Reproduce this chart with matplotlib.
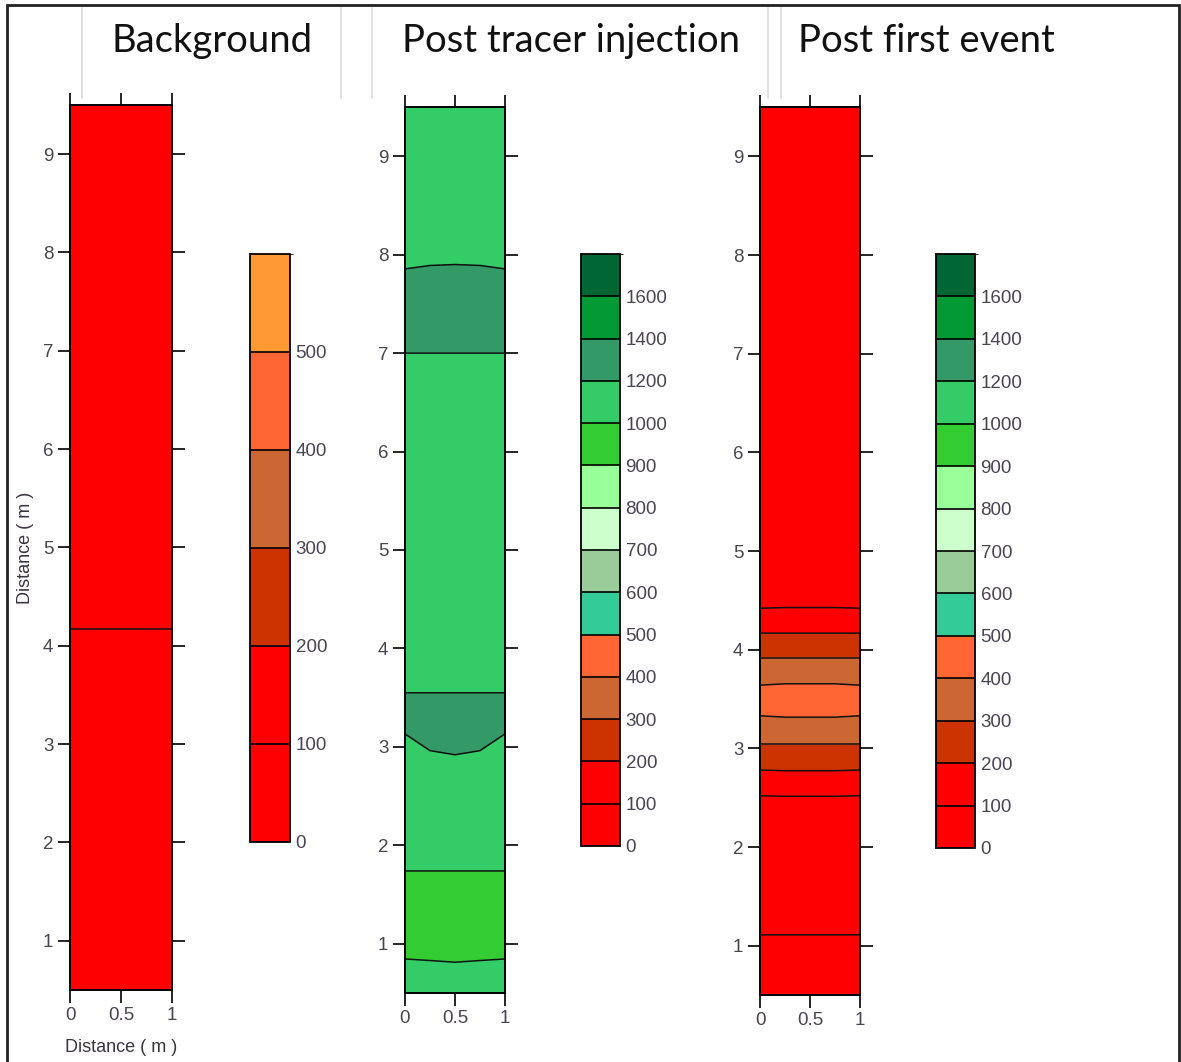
import numpy as np
import matplotlib.pyplot as plt
from matplotlib.colors import ListedColormap, BoundaryNorm
from matplotlib.cm import ScalarMappable
from matplotlib.lines import Line2D
from matplotlib.patches import Rectangle

plt.rcParams['font.family'] = ['Liberation Sans', 'DejaVu Sans']

W, H = 1181, 1062

# across-hole positions of the value columns (edge, quarter, centre, quarter, edge)
x_cols = [0, 0.25, 0.5, 0.75, 1]

# Background
bg_depth = [0.5, 4.0, 4.34, 9.5]
bg_edge = [60, 80, 120, 130]
bg_quarter = [60, 80, 120, 130]
bg_center = [60, 80, 120, 130]

# Post tracer injection
inj_depth = [0.5, 1.16, 2.32, 3.24, 3.86, 5.3, 6.5, 7.5, 8.3, 9.5]
inj_edge = [1055, 950, 1050, 1220, 1180, 1100, 1120, 1280, 1100, 1100]
inj_quarter = [1050, 950, 1050, 1265, 1135, 1100, 1120, 1280, 1116, 1100]
inj_center = [1045, 950, 1050, 1280, 1120, 1100, 1120, 1280, 1120, 1100]

# Post first event
ev_depth = [0.5, 0.98, 1.24, 2.39, 2.65, 2.91, 3.175, 3.485, 3.795, 4.045, 4.29, 4.55, 9.5]
ev_edge = [150, 150, 50, 50, 150, 250, 350, 450, 350, 250, 150, 50, 50]
ev_quarter = [150, 150, 50, 50, 155, 250, 350, 460, 350, 250, 150, 55, 50]
ev_center = [150, 150, 50, 50, 155, 250, 350, 460, 350, 250, 150, 55, 50]

bg_levels = [0, 100, 200, 300, 400, 500, 600]
bg_colors = ['#FF0000', '#FF0000', '#CC3300', '#CC6633', '#FF6633', '#FF9933']

green_levels = [0, 100, 200, 300, 400, 500, 600, 700, 800, 900, 1000, 1200, 1400, 1600, 1800]
green_colors = ['#FF0000', '#FF0000', '#CC3300', '#CC6633', '#FF6633', '#33CC99',
                '#99CC99', '#CCFFCC', '#99FF99', '#33CC33', '#33CC66', '#339966',
                '#009933', '#006633']

titles = ['Background', 'Post tracer injection', 'Post first event']
title_x = [212, 571, 926]


def px_rect(left, top, right, bottom):
    return [left / W, 1 - bottom / H, (right - left) / W, (bottom - top) / H]


def column_plot(ax_box, cb_box, depth, edge, quarter, center, levels, colors, labels=False):
    z = np.column_stack([edge, quarter, center, quarter, edge])
    cmap = ListedColormap(colors)
    norm = BoundaryNorm(levels, cmap.N)

    ax = fig.add_axes(px_rect(*ax_box))
    ax.contourf(x_cols, depth, z, levels=levels, cmap=cmap, norm=norm)
    ax.contour(x_cols, depth, z, levels=levels, colors='#111111', linewidths=1.1)
    ax.set_xlim(0, 1)
    ax.set_ylim(0.5, 9.5)
    ax.set_xticks([0, 0.5, 1])
    ax.set_xticklabels(['0', '0.5', '1'])
    ax.set_yticks(range(1, 10))
    ax.tick_params(direction='out', length=9, width=1.2, top=True, right=True,
                   labelsize=13.5, labelcolor='#4a4452', pad=3)
    for s in ax.spines.values():
        s.set_linewidth(1.4)
    if labels:
        ax.set_xlabel('Distance ( m )', fontsize=13, color='#3a3440', labelpad=11)
        ax.set_ylabel('Distance ( m )', fontsize=13, color='#3a3440', labelpad=6)

    cax = fig.add_axes(px_rect(*cb_box))
    cb = fig.colorbar(ScalarMappable(norm=norm, cmap=cmap), cax=cax, boundaries=levels,
                      spacing='uniform', drawedges=True, ticks=levels[:-1])
    cb.ax.tick_params(length=0, labelsize=13.5, labelcolor='#4a4452', pad=4)
    cb.outline.set_linewidth(1.3)
    cb.dividers.set_linewidth(1.2)
    return ax


fig = plt.figure(figsize=(W / 100, H / 100), dpi=100)

column_plot((70, 105, 172, 990), (250, 254, 290, 842), bg_depth, bg_edge, bg_quarter,
            bg_center, bg_levels, bg_colors, labels=True)
column_plot((405, 107, 505, 993), (581, 254, 620, 846), inj_depth, inj_edge, inj_quarter,
            inj_center, green_levels, green_colors)
column_plot((760, 107, 860, 995), (936, 254, 975, 848), ev_depth, ev_edge, ev_quarter,
            ev_center, green_levels, green_colors)

for t, x in zip(titles, title_x):
    fig.text(x / W, 1 - 41 / H, t, ha='center', va='center', fontsize=27.5,
             family=['Lato', 'DejaVu Sans'], color='#111111')

for x in [82, 341, 372, 768, 781]:
    fig.add_artist(Line2D([x / W, x / W], [1 - 8 / H, 1 - 98 / H], color='#dcdcdc', lw=1.2))

fig.add_artist(Rectangle((7 / W, -0.01), (1179 - 7) / W, 1.01 - 5 / H,
                         transform=fig.transFigure, fill=False, lw=2, ec='#222222'))

fig.savefig('out.png', dpi=100)
